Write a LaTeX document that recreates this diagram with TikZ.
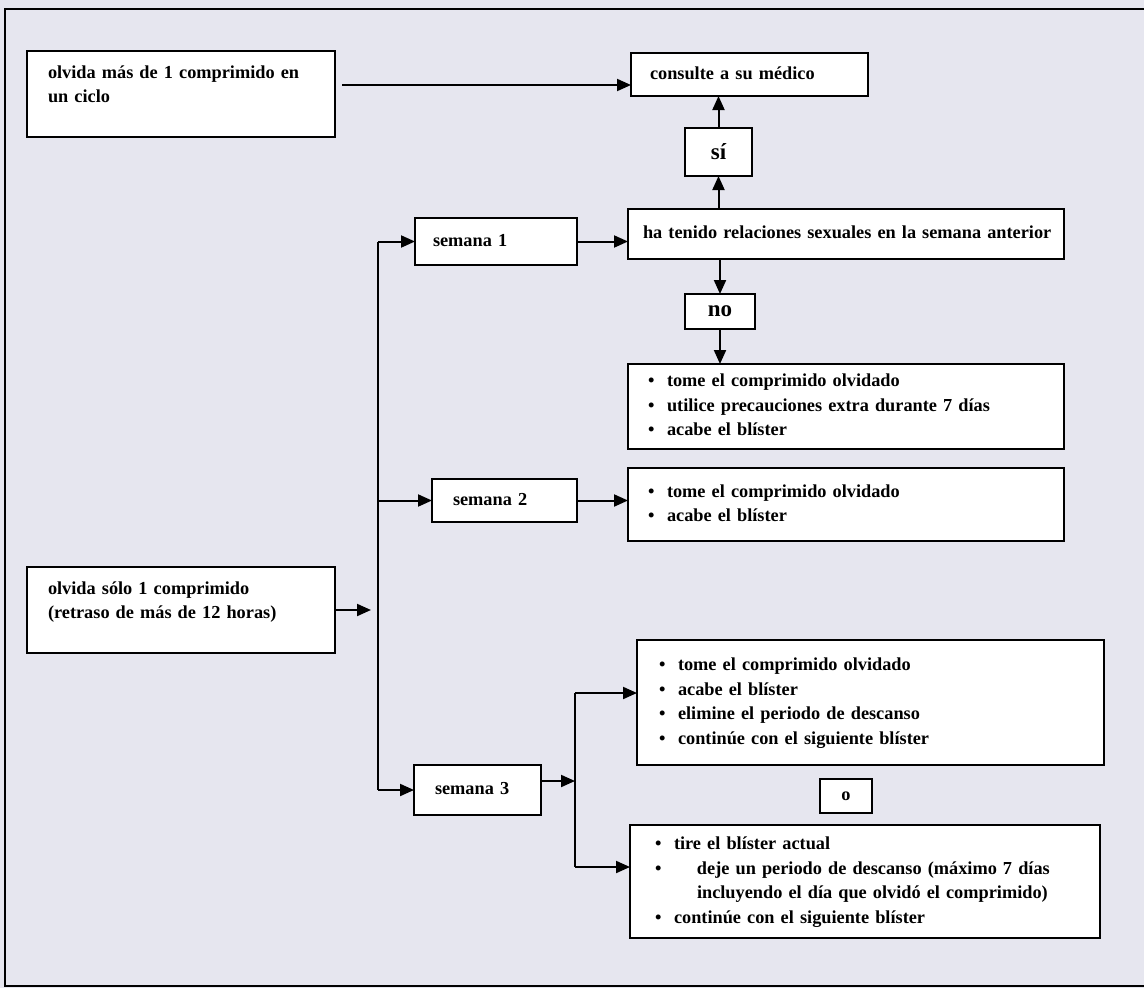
\documentclass[tikz,border=0pt]{standalone}
\usepackage{fontspec}
\setmainfont{Liberation Serif}
\usetikzlibrary{calc, arrows.meta, positioning}

\definecolor{scanbg}{RGB}{230,230,239}

\newcommand{\boxlines}[1]{\begin{tabular}{@{}l@{}}#1\end{tabular}}
\newcommand{\bulletlist}[1]{\begin{tabular}{@{}p{19pt}@{}l@{}}#1\end{tabular}}

\tikzset{
	box/.style = {draw, line width=2pt, fill=white, anchor=north west, outer sep=0pt, inner ysep=0pt, align=left},
	tag/.style = {draw, line width=2pt, fill=white, anchor=north west, outer sep=0pt, inner sep=0pt},
	flow/.style = {line width=2pt, -{Triangle[length=14pt, width=12pt]}},
	plain/.style = {line width=2pt}
}

\begin{document}
\begin{tikzpicture}[x=1pt, y=-1pt, font=\fontsize{18.3}{24.5}\selectfont\bfseries]
		\def\big{\fontsize{23}{26}\selectfont};
		
		\useasboundingbox (0,0) rectangle (1144,988);
		\clip (0,0) rectangle (1144,988);
		
		\begin{scope}
		\fill[scanbg] (0,0) rectangle (1144,988);
		\draw[line width=2.5pt] (1160,9) -- (5,9) -- (5,986) -- (1160,986);
		\end{scope}
		
		% left column
		\node[box, inner xsep=21pt, text width=266pt, minimum height=86pt] (olvidaMas) at (27,51) {\boxlines{olvida más de 1 comprimido en\\un ciclo\\[17pt]}};
		\node[box, inner xsep=21pt, text width=266pt, minimum height=86pt] (olvidaUno) at (27,567) {\boxlines{olvida sólo 1 comprimido\\(retraso de más de 12 horas)\\[17pt]}};
		
		% weeks
		\node[box, inner xsep=18pt, text width=126pt, minimum height=47pt] (semana1) at (415,218) {\boxlines{semana 1}};
		\node[box, inner xsep=21pt, text width=103pt, minimum height=43pt] (semana2) at (432,479) {\boxlines{semana 2}};
		\node[box, inner xsep=21pt, text width=85pt, minimum height=50pt] (semana3) at (414,765) {\boxlines{semana 3}};
		
		% right column
		\node[box, inner xsep=19pt, text width=199pt, minimum height=43pt] (consulte) at (631,53) {\boxlines{consulte a su médico}};
		\node[tag, minimum width=67pt, minimum height=48pt] (si) at (685,128) {\big sí};
		\node[box, inner xsep=15pt, text width=406pt, minimum height=50pt] (haTenido) at (628,209) {\boxlines{ha tenido relaciones sexuales en la semana anterior}};
		\node[tag, minimum width=70pt, minimum height=35pt] (no) at (685,294) {\big no};
		\node[box, inner xsep=20pt, text width=396pt, minimum height=85pt] (noList) at (628,364) {\bulletlist{\textbullet & tome el comprimido olvidado\\
			\textbullet & utilice precauciones extra durante 7 días\\
			\textbullet & acabe el blíster}};
		\node[box, inner xsep=20pt, text width=396pt, minimum height=73pt] (twoList) at (628,468) {\bulletlist{\textbullet & tome el comprimido olvidado\\
			\textbullet & acabe el blíster}};
		\node[box, inner xsep=22pt, text width=423pt, minimum height=125pt] (threeList) at (637,640) {\bulletlist{\textbullet & tome el comprimido olvidado\\
			\textbullet & acabe el blíster\\
			\textbullet & elimine el periodo de descanso\\
			\textbullet & continúe con el siguiente blíster}};
		\node[tag, minimum width=52pt, minimum height=34pt] (oBox) at (820,779) {o};
		\node[box, inner xsep=25pt, text width=420pt, minimum height=113pt] (tireList) at (630,825) {\bulletlist{\textbullet & tire el blíster actual\\
			\textbullet & \hspace{23pt}deje un periodo de descanso (máximo 7 días\\
			& \hspace{23pt}incluyendo el día que olvidó el comprimido)\\
			\textbullet & continúe con el siguiente blíster}};
		
		% connectors
		\coordinate (aOut) at ($(olvidaMas.east)+(7,-9)$);
		\coordinate (trunk) at (378,0);
		\coordinate (branchTop) at (575,693);
		\coordinate (branchBot) at (575,867);
		\coordinate (s3Out) at ($(semana3.east)+(0,-9)$);
		
		\draw[flow] (aOut) -- (aOut -| consulte.west);
		\draw[flow] (si.south |- haTenido.north) -- (si.south);
		\draw[flow] (si.north) -- (si.north |- consulte.south);
		\draw[flow] (no.north |- haTenido.south) -- (no.north);
		\draw[flow] (no.south) -- (no.south |- noList.north);
		\draw[flow] (semana1.east) -- (semana1.east -| haTenido.west);
		\draw[flow] (semana2.east) -- (semana2.east -| twoList.west);
		
		\begin{scope}
		\draw[plain] (semana1.west -| trunk) -- (semana3.west -| trunk);
		\draw[flow] (semana1.west -| trunk) -- (semana1.west);
		\draw[flow] (semana2.west -| trunk) -- (semana2.west);
		\draw[flow] (semana3.west -| trunk) -- (semana3.west);
		\draw[flow] (olvidaUno.east) -- ($(olvidaUno.east -| trunk)+(-7,0)$);
		\end{scope}
		
		\begin{scope}
		\draw[flow] (s3Out) -- (s3Out -| branchTop);
		\draw[plain] (branchTop) -- (branchBot);
		\draw[flow] (branchTop) -- (branchTop -| threeList.west);
		\draw[flow] (branchBot) -- (branchBot -| tireList.west);
		\end{scope}
	\end{tikzpicture}
\end{document}
